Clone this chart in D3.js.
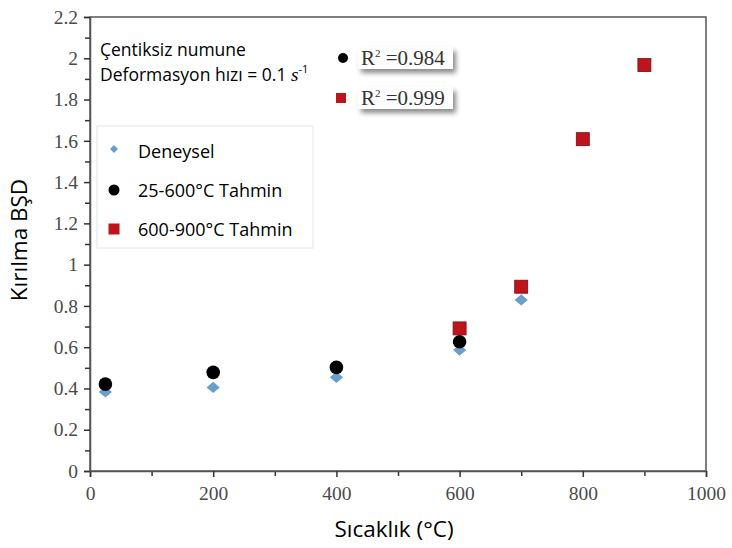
<!DOCTYPE html>
<html>
<head>
<meta charset="utf-8">
<script src="https://cdn.jsdelivr.net/npm/d3@7"></script>
<style>
  body { margin: 0; background: #fff; }
  .tick text { font-family: "Liberation Serif", serif; fill: #4a4a4a; }
</style>
</head>
<body>
<div id="chart"></div>
<script>
// Data
const temps = [25, 200, 400, 600, 700];
const deneysel = [0.383, 0.405, 0.454, 0.586, 0.829];
const tahminLowT = [25, 200, 400, 600];
const tahminLow = [0.421, 0.478, 0.502, 0.626];
const tahminHighT = [600, 700, 800, 900];
const tahminHigh = [0.691, 0.893, 1.608, 1.967];
const r2Values = ["0.984", "0.999"];
const legendLabels = ["Deneysel", "25-600°C Tahmin", "600-900°C Tahmin"];

const width = 732, height = 548;
const margin = {top: 17, right: 26, bottom: 77, left: 90};
const innerW = width - margin.left - margin.right,
  innerH = height - margin.top - margin.bottom;
const sans = "'Open Sans', Lato, sans-serif";

const svg = d3.select("#chart").append("svg")
  .attr("width", width)
  .attr("height", height);

const g = svg.append("g")
  .attr("transform", "translate(" + margin.left + "," + margin.top + ")");

const x = d3.scaleLinear().domain([0, 1000]).range([0, innerW]);
const y = d3.scaleLinear().domain([0, 2.2]).range([innerH, 0]);

const blue = "#6a9fcb", red = "#c0141c";

// frame
g.append("rect")
  .attr("width", innerW).attr("height", innerH)
  .attr("fill", "none").attr("stroke", "#555").attr("stroke-width", 1.5);

// minor ticks
g.append("g")
  .attr("transform", "translate(0," + innerH + ")")
  .call(d3.axisBottom(x).tickValues(d3.range(100, 1000, 200)).tickSize(5).tickFormat(""))
  .call(a => a.select(".domain").remove())
  .selectAll("line").attr("stroke", "#333").attr("stroke-width", 1.5);
g.append("g")
  .call(d3.axisLeft(y).tickValues(d3.range(1, 22, 2).map(d => d / 10)).tickSize(5).tickFormat(""))
  .call(a => a.select(".domain").remove())
  .selectAll("line").attr("stroke", "#333").attr("stroke-width", 1.5);

// major axes
const xAxis = g.append("g")
  .attr("transform", "translate(0," + innerH + ")")
  .call(d3.axisBottom(x).tickValues(d3.range(0, 1001, 200)).tickSize(6).tickPadding(9).tickFormat(d3.format("d")));
const yAxis = g.append("g")
  .call(d3.axisLeft(y).tickValues(d3.range(0, 23, 2).map(d => d / 10)).tickSize(6).tickPadding(6).tickFormat(d => String(+d.toFixed(1))));
[xAxis, yAxis].forEach(a => {
  a.select(".domain").attr("stroke", "#555").attr("stroke-width", 1.5);
  a.selectAll(".tick line").attr("stroke", "#333").attr("stroke-width", 1.5);
  a.selectAll(".tick text").style("font-size", "19.5px");
});

// axis titles
svg.append("text")
  .attr("x", 394).attr("y", 537)
  .attr("text-anchor", "middle")
  .style("font-family", sans).style("font-size", "22.5px")
  .text("Sıcaklık (°C)");
svg.append("text")
  .attr("transform", "translate(27,240) rotate(-90)")
  .attr("text-anchor", "middle")
  .style("font-family", sans).style("font-size", "22.5px")
  .text("Kırılma BŞD");

// marks
const diamond = d3.symbol().type(d3.symbolSquare).size(88);
g.selectAll(".dia").data(temps.map((t, i) => [t, deneysel[i]])).enter()
  .append("path")
  .attr("d", diamond)
  .attr("transform", d => "translate(" + x(d[0]) + "," + y(d[1]) + ") scale(1,0.85) rotate(45)")
  .attr("fill", blue);

g.selectAll(".circ").data(tahminLowT.map((t, i) => [t, tahminLow[i]])).enter()
  .append("circle")
  .attr("cx", d => x(d[0])).attr("cy", d => y(d[1]))
  .attr("r", 6.8).attr("fill", "#000");

g.selectAll(".sq").data(tahminHighT.map((t, i) => [t, tahminHigh[i]])).enter()
  .append("rect")
  .attr("x", d => x(d[0]) - 6.5).attr("y", d => y(d[1]) - 6.5)
  .attr("width", 13).attr("height", 13)
  .attr("fill", red).attr("stroke", "#7a0a0e").attr("stroke-width", 0.8);

// annotation
const note = svg.append("text")
  .style("font-family", sans).style("font-size", "17.5px");
note.append("tspan").attr("x", 100).attr("y", 56).text("Çentiksiz numune");
note.append("tspan").attr("x", 100).attr("y", 81).text("Deformasyon hızı = 0.1 ");
note.append("tspan").style("font-family", "'Liberation Serif', serif").style("font-style", "italic").style("font-size", "19px").text("s");
note.append("tspan").attr("dy", -8).style("font-size", "11px").text("-1");

// R² boxes
const defs = svg.append("defs");
const f = defs.append("filter").attr("id", "shadow").attr("x", "-20%").attr("y", "-40%").attr("width", "150%").attr("height", "220%");
f.append("feDropShadow").attr("dx", 3).attr("dy", 4).attr("stdDeviation", 2.5).attr("flood-color", "#000").attr("flood-opacity", 0.45);

r2Values.forEach((val, i) => {
  const cy = 58 + i * 40;
  svg.append("rect")
    .attr("x", 358).attr("y", cy - 11).attr("width", 95).attr("height", 22)
    .attr("fill", "#fff").attr("filter", "url(#shadow)");
  const t = svg.append("text")
    .attr("x", 361).attr("y", cy + 7)
    .style("font-family", "'Liberation Serif', serif").style("font-size", "21px").style("fill", "#333");
  t.append("tspan").text("R");
  t.append("tspan").attr("dy", -8).style("font-size", "11px").text("2");
  t.append("tspan").attr("dy", 8).text(" =" + val);
  if (i === 0) {
    svg.append("circle").attr("cx", 343).attr("cy", cy).attr("r", 5).attr("fill", "#000");
  } else {
    svg.append("rect").attr("x", 336).attr("y", cy - 5).attr("width", 10).attr("height", 10).attr("fill", red);
  }
});

// legend
const lg = svg.append("g").attr("transform", "translate(97,126)");
lg.append("rect").attr("width", 216).attr("height", 122)
  .attr("fill", "#fff").attr("stroke", "#e6e6e6");
legendLabels.forEach((lab, i) => {
  const cy = 25 + i * 39;
  if (i === 0) {
    lg.append("path").attr("d", d3.symbol().type(d3.symbolSquare).size(32))
      .attr("transform", "translate(17," + (cy - 2) + ") rotate(45)").attr("fill", blue);
  } else if (i === 1) {
    lg.append("circle").attr("cx", 17).attr("cy", cy).attr("r", 5.5).attr("fill", "#000");
  } else {
    lg.append("rect").attr("x", 11.5).attr("y", cy - 5.5).attr("width", 11).attr("height", 11).attr("fill", red);
  }
  lg.append("text").attr("x", 41).attr("y", cy + 7)
    .style("font-family", sans).style("font-size", "18px")
    .text(lab);
});
</script>
</body>
</html>
